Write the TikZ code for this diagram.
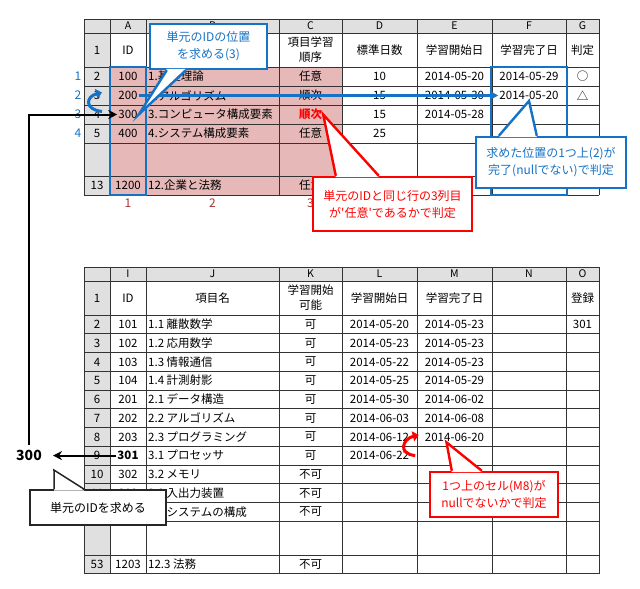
\documentclass[tikz,border=0pt]{standalone}
\usepackage{fontspec}
\setmainfont{Noto Sans CJK JP}
\usepackage{tikz}
\usetikzlibrary{calc,arrows.meta}
\definecolor{xlblue}{RGB}{22,114,196}
\definecolor{xlred}{RGB}{255,0,0}
\definecolor{xlpink}{RGB}{230,185,184}
\definecolor{xlgrey}{RGB}{224,224,224}
\definecolor{colnum}{RGB}{170,50,50}

\begin{document}
\begin{tikzpicture}
      [x=1pt,y=-1pt,
      every node/.style={inner sep=1pt,font=\fontsize{11.5}{15}\selectfont,align=center},
      namecell/.style={anchor=west},
      letter/.style={font=\fontsize{10.5}{12}\selectfont},
      gridline/.style={draw=black!80,line width=0.9pt},
      blueline/.style={draw=xlblue,line width=2.4pt},
      redline/.style={draw=xlred,line width=2.4pt},
      bluebox/.style={blueline,fill=white,text=xlblue,inner sep=0pt,font=\fontsize{12}{17}\selectfont},
      redbox/.style={redline,fill=white,text=xlred,inner sep=0pt,font=\fontsize{12}{17}\selectfont},
      blackbox/.style={draw=black!85,line width=1.5pt,fill=white,inner sep=0pt,font=\fontsize{12}{15}\selectfont},
      blackarrow/.style={line width=2pt,-{Stealth[length=9pt,width=9pt]}}]
\useasboundingbox (0,0) rectangle (640,589);
\fill[xlgrey] (84,19) rectangle (599,33) (84,33) rectangle (110,195);
\fill[xlpink] (110,67) rectangle (342,195);
\foreach \y in {19,33,67,86,105,124,143,176,195} \draw[gridline] (84,\y) -- (599,\y);
\foreach \x in {84,110,146,279,342,417,492,566,599} \draw[gridline] (\x,19) -- (\x,195);
\fill[xlgrey] (84,267) rectangle (599,281) (84,281) rectangle (110,573.75);
\foreach \y in {267,281,315,333.75,352.5,371.25,390,408.75,427.5,446.25,465,483.75,502.5,521.25,555,573.75} \draw[gridline] (84,\y) -- (599,\y);
\foreach \x in {84,110,146,279,342,417,492,566,599} \draw[gridline] (\x,267) -- (\x,573.75);
\foreach \c/\x in {A/128,B/212.5,C/310.5,D/379.5,E/454.5,F/529,G/582.5} \node[letter] (t-0-\c) at (\x,26) {\c};
\foreach \c/\x in {I/128,J/212.5,K/310.5,L/379.5,M/454.5,N/529,O/582.5} \node[letter] (b-0-\c) at (\x,274) {\c};
\node (t-1-0) at (97,50) {1};
\node (t-1-A) at (128,50) {ID};
\node (t-1-C) at (310.5,50) {項目学習\\順序};
\node (t-1-D) at (379.5,50) {標準日数};
\node (t-1-E) at (454.5,50) {学習開始日};
\node (t-1-F) at (529,50) {学習完了日};
\node (t-1-G) at (582.5,50) {判定};
\foreach \y/\r/\id/\name/\ord/\days/\start/\done/\judge in {
    76.5/2/100/1.基礎理論/任意/10/2014-05-20/2014-05-29/○,
    95.5/3/200/2.アルゴリズム/順次/15/2014-05-30/2014-05-20/△,
    114.5/4/300/3.コンピュータ構成要素/{\color{xlred}\bfseries 順次}/15/2014-05-28/{}/{},
    133.5/5/400/4.システム構成要素/任意/25/{}/{}/{},
    185.5/13/1200/12.企業と法務/任意/{}/{}/{}/{}}
  {\node (t-\r-0) at (97,\y) {\r};
   \node (t-\r-A) at (128,\y) {\id};
   \node[namecell] (t-\r-B) at (147,\y) {\name};
   \node (t-\r-C) at (310.5,\y) {\ord};
   \node (t-\r-D) at (379.5,\y) {\days};
   \node (t-\r-E) at (454.5,\y) {\start};
   \node (t-\r-F) at (529,\y) {\done};
   \node (t-\r-G) at (582.5,\y) {\judge};}
\node (b-1-0) at (97,298) {1};
\node (b-1-I) at (128,298) {ID};
\node (b-1-J) at (212.5,298) {項目名};
\node (b-1-K) at (310.5,298) {学習開始\\可能};
\node (b-1-L) at (379.5,298) {学習開始日};
\node (b-1-M) at (454.5,298) {学習完了日};
\node (b-1-O) at (582.5,298) {登録};
\foreach \y/\r/\n/\id/\name/\can/\start/\done/\reg in {
    324.4/2/2/101/1.1 離散数学/可/2014-05-20/2014-05-23/301,
    343.1/3/3/102/1.2 応用数学/可/2014-05-23/2014-05-23/{},
    361.9/4/4/103/1.3 情報通信/可/2014-05-22/2014-05-23/{},
    380.6/5/5/104/1.4 計測射影/可/2014-05-25/2014-05-29/{},
    399.4/6/6/201/2.1 データ構造/可/2014-05-30/2014-06-02/{},
    418.1/7/7/202/2.2 アルゴリズム/可/2014-06-03/2014-06-08/{},
    436.9/8/8/203/2.3 プログラミング/可/2014-06-12/2014-06-20/{},
    455.6/9/9/{\bfseries 301}/3.1 プロセッサ/可/2014-06-22/{}/{},
    474.4/10/10/302/3.2 メモリ/不可/{}/{}/{},
    493.1/11/11/303/3.3 入出力装置/不可/{}/{}/{},
    511.9/12/{}/{}/3.4 システムの構成/不可/{}/{}/{},
    564.4/53/53/1203/12.3 法務/不可/{}/{}/{}}
  {\node (b-\r-0) at (97,\y) {\n};
   \node (b-\r-I) at (128,\y) {\id};
   \node[namecell] (b-\r-J) at (147,\y) {\name};
   \node (b-\r-K) at (310.5,\y) {\can};
   \node (b-\r-L) at (379.5,\y) {\start};
   \node (b-\r-M) at (454.5,\y) {\done};
   \node (b-\r-O) at (582.5,\y) {\reg};}
\foreach \n/\y in {1/76.5,2/95.5,3/114.5,4/133.5} \node[text=xlblue,font=\fontsize{12}{14}\selectfont] (rn-\n) at (78,\y) {\n};
\foreach \n/\x in {1/128,2/212.5,3/310.5} \node[text=colnum,font=\fontsize{12}{14}\selectfont] (cn-\n) at (\x,203) {\n};
\draw[blueline,line width=2.8pt] (110,67) rectangle (146,195);
\draw[blueline,line width=2.8pt] (491,67) rectangle (567,195);
\draw[blueline,-{Triangle[length=8pt,width=8pt]}] (t-3-A.east) -- (t-3-F.west);
\draw[blueline,line width=3pt,-{Triangle[length=6pt,width=10pt]}] ($(t-4-0)+(5,-3)$) .. controls +(-18,-2) and +(-16,4) .. ($(t-3-0)+(5,-3)$);
\draw[redline,line width=3pt,-{Triangle[length=6pt,width=10pt]}] ($(b-9-L.east)+(5,0)$) .. controls +(-18,-2) and +(-16,4) .. ($(b-8-M.west)+(-5,-2)$);
\node[font=\fontsize{14}{16}\selectfont\bfseries] (v300) at (29,455.6) {300};
\draw[blackarrow,shorten <=4pt] (v300.north) |- (t-4-A.west);
\draw[blackarrow,shorten >=10pt] (b-9-I.west) -- (v300.east);
\coordinate (tip300) at ($(v300.south east)+(11,8)$);
\node[bluebox,minimum width=117pt,minimum height=45pt] (findpos) at (208.5,46.5) {単元のIDの位置\\を求める(3)};
\fill[white] ($(findpos.south west)+(18,-1.3)$) -- (t-4-A.east) -- ($(findpos.south west)+(37,-1.3)$) -- cycle;
\draw[blueline] ($(findpos.south west)+(18,0)$) -- (t-4-A.east) -- ($(findpos.south west)+(37,0)$);
\node[bluebox,minimum width=150pt,minimum height=51pt] (upcheck) at (551,162.5) {求めた位置の1つ上(2)が\\完了(nullでない)で判定};
\fill[white] ($(upcheck.north west)+(24,1.3)$) -- (t-3-F.south) -- ($(upcheck.north west)+(62,1.3)$) -- cycle;
\draw[blueline] ($(upcheck.north west)+(24,0)$) -- (t-3-F.south) -- ($(upcheck.north west)+(62,0)$);
\node[redbox,minimum width=159pt,minimum height=54pt] (ordcheck) at (392.5,204) {単元のIDと同じ行の3列目\\が\textquotesingle 任意\textquotesingle であるかで判定};
\fill[white] ($(ordcheck.north west)+(24,1.3)$) -- (t-4-C.east) -- ($(ordcheck.north west)+(67,1.3)$) -- cycle;
\draw[redline] ($(ordcheck.north west)+(24,0)$) -- (t-4-C.east) -- ($(ordcheck.north west)+(67,0)$);
\node[redbox,minimum width=128pt,minimum height=45pt] (nullcheck) at (494,494.5) {1つ上のセル(M8)が\\nullでないかで判定};
\fill[white] ($(nullcheck.north west)+(23,1.3)$) -- ($(b-8-M.south)+(-8,0)$) -- ($(nullcheck.north west)+(53,1.3)$) -- cycle;
\draw[redline] ($(nullcheck.north west)+(23,0)$) -- ($(b-8-M.south)+(-8,0)$) -- ($(nullcheck.north west)+(53,0)$);
\node[blackbox,minimum width=136pt,minimum height=35pt] (findid) at (98,507.5) {単元のIDを求める};
\fill[white] ($(findid.north west)+(25,1.3)$) -- (tip300) -- ($(findid.north west)+(55,1.3)$) -- cycle;
\draw[draw=black!85,line width=1.5pt] ($(findid.north west)+(25,0)$) -- (tip300) -- ($(findid.north west)+(55,0)$);
\end{tikzpicture}
\end{document}
